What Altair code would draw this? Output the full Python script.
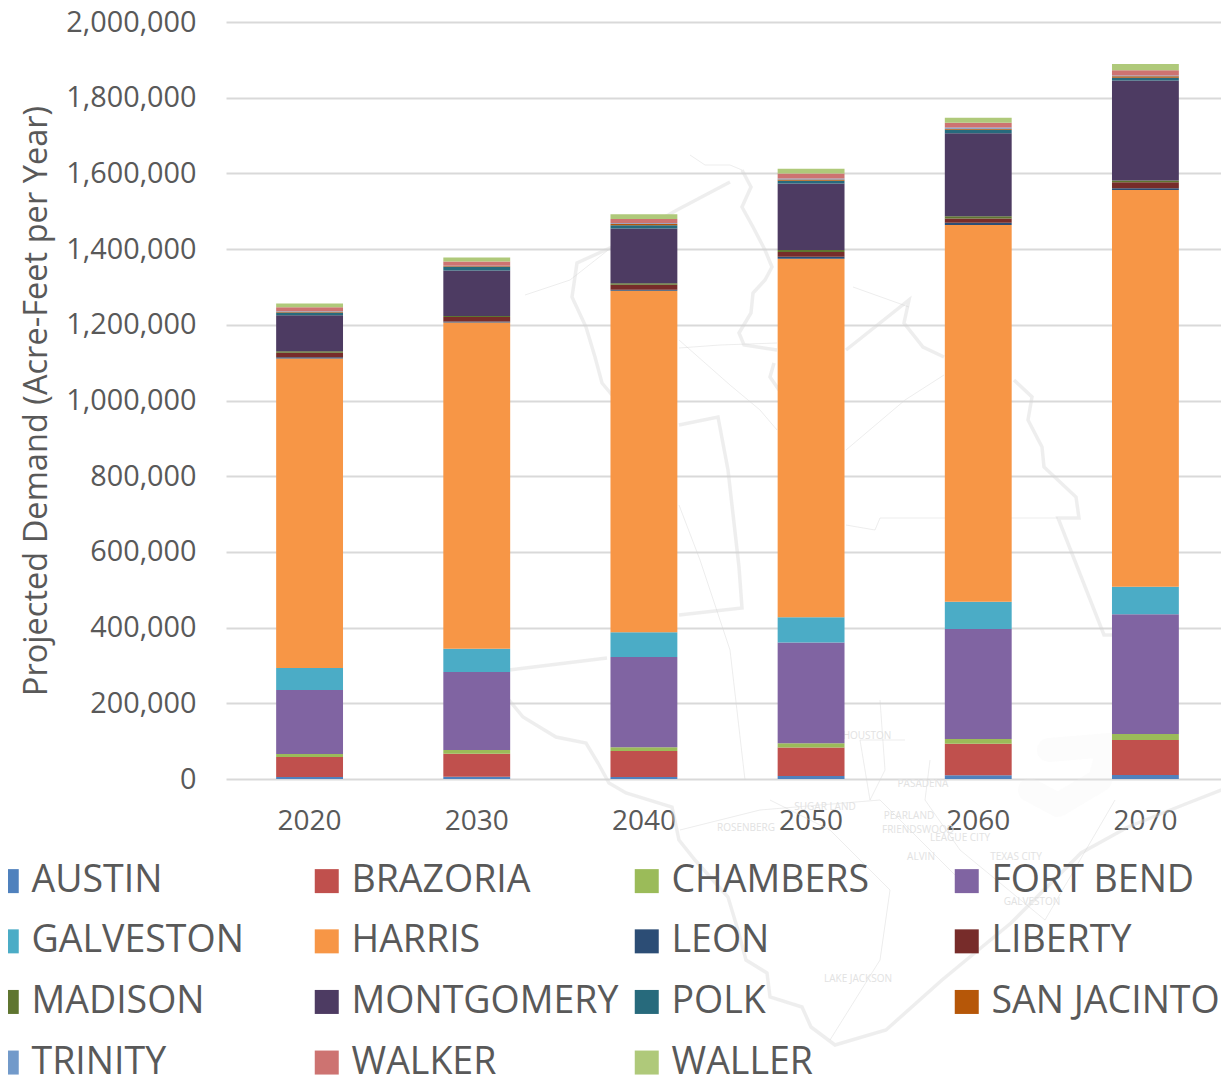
import altair as alt
import pandas as pd

years = ["2020", "2030", "2040", "2050", "2060", "2070"]
counties = ["AUSTIN", "BRAZORIA", "CHAMBERS", "FORT BEND", "GALVESTON", "HARRIS", "LEON", "LIBERTY",
            "MADISON", "MONTGOMERY", "POLK", "SAN JACINTO", "TRINITY", "WALKER", "WALLER"]
colors = ["#4f81bd", "#c0504d", "#9bbb59", "#8064a2", "#4bacc6", "#f79646", "#2c4d75", "#772c2a",
          "#5f7530", "#4d3b62", "#276a7c", "#b65708", "#729aca", "#cd7371", "#afc97a"]

austin = [5000, 6000, 5000, 8000, 10000, 10500]
brazoria = [53000, 61000, 69000, 75000, 83000, 92500]
chambers = [8000, 9800, 10000, 11500, 12400, 16000]
fort_bend = [169000, 206000, 238000, 266000, 291000, 316000]
galveston = [58000, 61000, 66000, 67000, 72000, 73000]
harris = [818000, 862000, 902000, 947000, 995000, 1048000]
leon = [3500, 2600, 2600, 5000, 6000, 4500]
liberty = [11400, 12400, 13000, 13000, 11600, 16000]
madison = [4500, 2600, 4500, 5000, 6000, 5000]
montgomery = [95000, 120000, 144000, 176000, 219000, 264000]
polk = [7000, 9000, 9000, 7000, 9000, 7000]
san_jacinto = [2000, 2000, 3000, 3500, 3000, 4000]
trinity = [1500, 1500, 2000, 2500, 3000, 2000]
walker = [10600, 11500, 11400, 13000, 13000, 14000]
waller = [9800, 10500, 12400, 13000, 13000, 16700]
series = [austin, brazoria, chambers, fort_bend, galveston, harris, leon, liberty,
          madison, montgomery, polk, san_jacinto, trinity, walker, waller]

# Faint background map in image pixels
river_w_x = [742, 751, 742, 753, 765, 772, 765, 753, 751, 739, 744, 777]
river_w_y = [170, 187, 207, 227, 250, 267, 280, 293, 313, 333, 345, 350]
north_x = [730, 677, 612, 577, 572, 586, 595, 602, 612]
north_y = [182, 210, 247, 263, 297, 327, 357, 383, 395]
mid_x = [679, 718, 728, 739, 742, 679]
mid_y = [425, 417, 470, 567, 608, 615]
coast_w_x = [509, 607]
coast_w_y = [670, 658]
river_s_x = [509, 523, 556, 586, 598, 609, 626, 672, 679, 695, 728, 737, 746, 767, 770, 802, 811, 835, 886, 942, 1011, 1081, 1128, 1188, 1229]
river_s_y = [700, 717, 737, 743, 763, 783, 793, 807, 840, 860, 897, 927, 960, 973, 997, 1007, 1027, 1045, 1030, 980, 923, 853, 827, 803, 787]
east_x = [846, 909, 904, 923, 944]
east_y = [350, 300, 323, 347, 357]
east2_x = [1014, 1032, 1028, 1042, 1044, 1076, 1079, 1058, 1104, 1114]
east2_y = [380, 397, 420, 447, 467, 497, 518, 518, 635, 635]
river_top_x = [774, 770, 779]
river_top_y = [363, 377, 390]
thick_lines = [(river_w_x, river_w_y), (north_x, north_y), (mid_x, mid_y), (coast_w_x, coast_w_y),
               (river_s_x, river_s_y), (east_x, east_y), (east2_x, east2_y), (river_top_x, river_top_y)]

thin1_x = [679, 720, 777]
thin1_y = [348, 345, 343]
thin2_x = [853, 909]
thin2_y = [287, 307]
thin3_x = [846, 875, 880, 945, 1016, 1058]
thin3_y = [525, 530, 518, 518, 518, 518]
thin4_x = [679, 730, 760, 777]
thin4_y = [340, 385, 410, 430]
thin5_x = [846, 905, 944]
thin5_y = [450, 400, 375]
thin6_x = [930, 925, 960, 1045, 1115]
thin6_y = [760, 800, 850, 920, 800]
thin7_x = [770, 830, 890, 880, 830]
thin7_y = [800, 830, 890, 960, 1040]
thin8_x = [680, 760, 880, 960]
thin8_y = [830, 810, 800, 880]
thin9_x = [690, 705, 730, 742]
thin9_y = [155, 165, 165, 170]
thin10_x = [525, 570, 612]
thin10_y = [295, 280, 247]
thin11_x = [880, 885, 870, 860, 905]
thin11_y = [700, 770, 800, 740, 740]
thin12_x = [679, 700, 730, 745]
thin12_y = [505, 560, 650, 780]
thin_lines = [(thin1_x, thin1_y), (thin2_x, thin2_y), (thin3_x, thin3_y), (thin4_x, thin4_y),
              (thin5_x, thin5_y), (thin6_x, thin6_y), (thin7_x, thin7_y), (thin8_x, thin8_y),
              (thin9_x, thin9_y), (thin10_x, thin10_y), (thin11_x, thin11_y), (thin12_x, thin12_y)]

bay_x = [1049, 1109, 1100, 1058, 1030]
bay_y = [750, 745, 780, 805, 790]

place_names = ["PASADENA", "SUGAR LAND", "ROSENBERG", "PEARLAND", "FRIENDSWOOD", "LEAGUE CITY",
               "TEXAS CITY", "GALVESTON", "LAKE JACKSON", "ALVIN", "HOUSTON"]
place_x = [923, 825, 746, 909, 918, 960, 1016, 1032, 858, 921, 867]
place_y = [784, 807, 828, 816, 830, 838, 857, 902, 979, 857, 736]

bars = pd.DataFrame([
    {"year": y, "county": c, "value": vals[i], "o": k}
    for k, (c, vals) in enumerate(zip(counties, series))
    for i, y in enumerate(years)
])


def rows(lines):
    return pd.DataFrame([
        {"line": n, "i": i, "px": px, "py": py}
        for n, (xs, ys) in enumerate(lines)
        for i, (px, py) in enumerate(zip(xs, ys))
    ])


map_x = alt.X("px:Q", axis=None, scale=alt.Scale(domain=[226, 1221], nice=False, zero=False))
map_y = alt.Y("py:Q", axis=None, scale=alt.Scale(domain=[779, 22], nice=False, zero=False))

bay = alt.Chart(rows([(bay_x, bay_y)])).mark_line(
    color="#ececec", strokeWidth=24, opacity=0.18, strokeJoin="round", strokeCap="round"
).encode(x=map_x, y=map_y, order="i:Q", detail="line:N")

thin = alt.Chart(rows(thin_lines)).mark_line(color="#d8d8d8", strokeWidth=1, opacity=0.45).encode(
    x=map_x, y=map_y, order="i:Q", detail="line:N")

thick = alt.Chart(rows(thick_lines)).mark_line(color="#d4d4d4", strokeWidth=3.5, opacity=0.4).encode(
    x=map_x, y=map_y, order="i:Q", detail="line:N")

places = alt.Chart(pd.DataFrame({"name": place_names, "px": place_x, "py": place_y})).mark_text(
    font="Open Sans", fontSize=10, color="#e2e2e2"
).encode(x=map_x, y=map_y, text="name:N")

stack = alt.Chart(bars).mark_bar().encode(
    x=alt.X("year:N", title=None, sort=years,
            scale=alt.Scale(paddingInner=0.6, paddingOuter=0.3, range=[0, 1003]),
            axis=alt.Axis(labelAngle=0, labelFont="Open Sans", labelFontSize=28, labelColor="#595959",
                          labelPadding=28, ticks=False, domain=False, grid=False)),
    y=alt.Y("value:Q", stack="zero", title="Projected Demand (Acre-Feet per Year)",
            scale=alt.Scale(domain=[0, 2000000], nice=False),
            axis=alt.Axis(values=list(range(0, 2000001, 200000)), format=",.0f", labelFont="Open Sans",
                          labelFontSize=28.8, labelColor="#595959", labelPadding=30, ticks=False, domain=False,
                          grid=True, gridColor="#d9d9d9", gridWidth=2, titleFont="Open Sans", titleFontSize=32.6,
                          titleFontWeight="normal", titleColor="#595959", titlePadding=12)),
    color=alt.Color("county:N", sort=counties,
                    scale=alt.Scale(domain=counties, range=colors),
                    legend=alt.Legend(orient="none", legendX=-238, legendY=840, columns=4, title=None,
                                      direction="horizontal",
                                      symbolType="square", symbolSize=576, symbolStrokeWidth=0,
                                      symbolOpacity=1, labelFont="Open Sans", labelFontSize=37.5,
                                      labelColor="#595959", labelLimit=400, labelOffset=6,
                                      gridAlign="all", columnPadding=9, rowPadding=21.6)),
    order=alt.Order("o:Q"),
)

chart = alt.layer(bay, thin, thick, places, stack).resolve_scale(
    x="independent", y="independent", color="independent"
).properties(
    width=995, height=757,
    padding={"left": 218, "top": 14, "right": 0, "bottom": 302},
    autosize=alt.AutoSizeParams(type="none"),
).configure_view(stroke=None)

chart.save("out.html", embed_options={"renderer": "svg", "actions": False})
